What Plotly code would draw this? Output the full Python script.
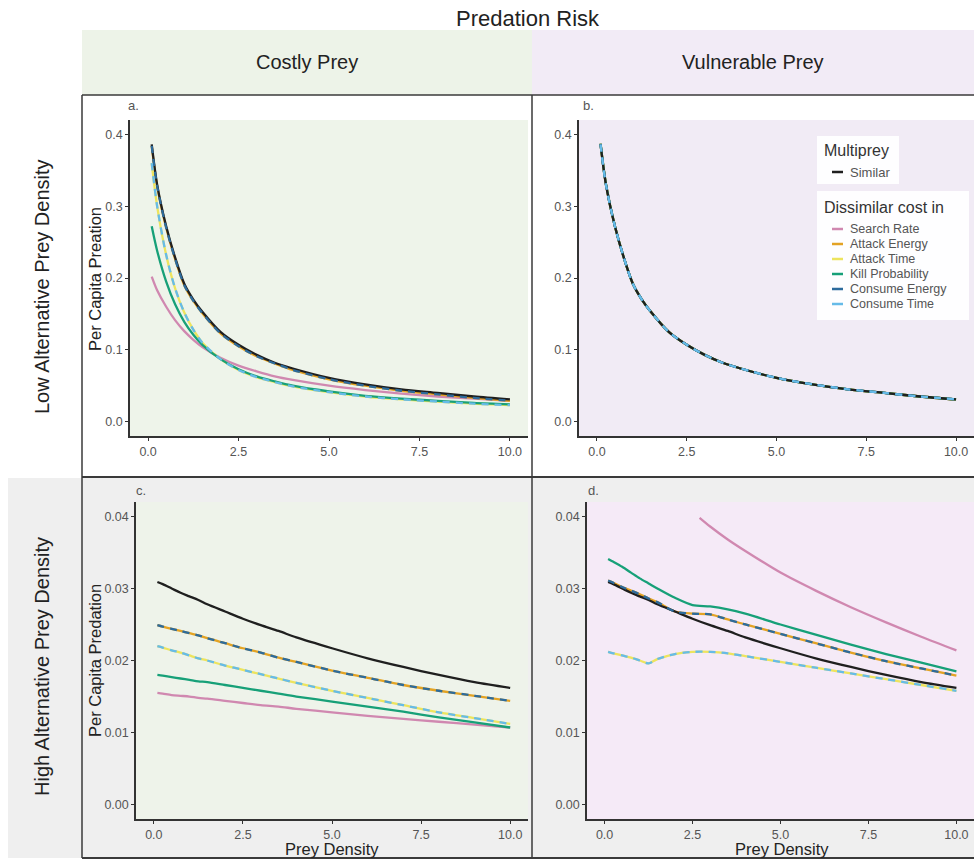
import plotly.graph_objects as go

W, H = 974, 861
FONT = "Liberation Sans, Arial, Helvetica, sans-serif"

# ---------------- data ----------------
X = [0.1, 0.25, 0.5, 0.75, 1.0, 1.25, 1.5, 2.0, 2.5, 3.0, 3.5, 4.0, 5.0, 6.0, 7.0, 8.0, 9.0, 10.0]

X_TICKS = [0, 2.5, 5, 7.5, 10]
X_TICK_TEXT = ["0.0", "2.5", "5.0", "7.5", "10.0"]
Y_TICKS_LOW = [0, 0.1, 0.2, 0.3, 0.4]
Y_TICK_TEXT_LOW = ["0.0", "0.1", "0.2", "0.3", "0.4"]
Y_TICKS_HIGH = [0, 0.01, 0.02, 0.03, 0.04]
Y_TICK_TEXT_HIGH = ["0.00", "0.01", "0.02", "0.03", "0.04"]

SERIES = ["Search Rate", "Attack Energy", "Attack Time", "Kill Probability", "Consume Energy", "Consume Time"]

# Similar multiprey (black)
similar_low = [0.386, 0.330, 0.272, 0.228, 0.192, 0.170, 0.153, 0.125, 0.107, 0.093, 0.082, 0.074,
               0.061, 0.052, 0.045, 0.040, 0.035, 0.031]
similar_high = [0.0309, 0.0306, 0.0300, 0.0294, 0.0289, 0.0284, 0.0278, 0.0268, 0.0258, 0.0249, 0.0241,
                0.0232, 0.0217, 0.0203, 0.0191, 0.0180, 0.0170, 0.0162]

# a. Costly prey, low alternative prey density
a_search = [0.202, 0.183, 0.160, 0.141, 0.126, 0.114, 0.104, 0.089, 0.078, 0.070, 0.063, 0.058,
            0.050, 0.044, 0.039, 0.035, 0.032, 0.029]
a_attack_energy = [0.384, 0.328, 0.270, 0.226, 0.190, 0.168, 0.151, 0.123, 0.105, 0.091, 0.081, 0.072,
                   0.059, 0.050, 0.043, 0.038, 0.033, 0.029]
a_attack_time = [0.360, 0.300, 0.232, 0.185, 0.152, 0.128, 0.110, 0.087, 0.072, 0.062, 0.055, 0.049,
                 0.041, 0.035, 0.031, 0.028, 0.025, 0.023]
a_kill = [0.272, 0.238, 0.195, 0.163, 0.139, 0.121, 0.107, 0.087, 0.073, 0.063, 0.056, 0.050,
          0.042, 0.036, 0.032, 0.029, 0.026, 0.024]
a_consume_energy = [0.384, 0.328, 0.270, 0.226, 0.190, 0.168, 0.151, 0.123, 0.105, 0.091, 0.081, 0.072,
                    0.059, 0.050, 0.043, 0.038, 0.033, 0.029]
a_consume_time = [0.360, 0.300, 0.232, 0.185, 0.152, 0.128, 0.110, 0.087, 0.072, 0.062, 0.055, 0.049,
                  0.041, 0.035, 0.031, 0.028, 0.025, 0.023]

# b. Vulnerable prey, low alternative prey density (all curves coincide with Similar)
b_search = [0.387, 0.331, 0.272, 0.228, 0.192, 0.170, 0.153, 0.125, 0.107, 0.093, 0.082, 0.074,
            0.061, 0.052, 0.045, 0.040, 0.035, 0.031]
b_attack_energy = [0.387, 0.331, 0.272, 0.228, 0.192, 0.170, 0.153, 0.125, 0.107, 0.093, 0.082, 0.074,
                   0.061, 0.052, 0.045, 0.040, 0.035, 0.031]
b_attack_time = [0.386, 0.330, 0.272, 0.228, 0.192, 0.170, 0.153, 0.125, 0.107, 0.093, 0.082, 0.074,
                 0.061, 0.052, 0.045, 0.040, 0.035, 0.031]
b_kill = [0.387, 0.331, 0.272, 0.228, 0.192, 0.170, 0.153, 0.125, 0.107, 0.093, 0.082, 0.074,
          0.061, 0.052, 0.045, 0.040, 0.035, 0.031]
b_consume_energy = [0.386, 0.330, 0.272, 0.228, 0.192, 0.170, 0.153, 0.125, 0.107, 0.093, 0.082, 0.074,
                    0.061, 0.052, 0.045, 0.040, 0.035, 0.031]
b_consume_time = [0.386, 0.330, 0.272, 0.228, 0.192, 0.170, 0.153, 0.125, 0.107, 0.093, 0.082, 0.074,
                  0.061, 0.052, 0.045, 0.040, 0.035, 0.031]

# c. Costly prey, high alternative prey density
c_search = [0.0155, 0.0154, 0.0152, 0.0151, 0.0150, 0.0148, 0.0147, 0.0144, 0.0141, 0.0138, 0.0136,
            0.0133, 0.0128, 0.0123, 0.0119, 0.0115, 0.0111, 0.0107]
c_attack_energy = [0.0249, 0.0247, 0.0244, 0.0241, 0.0238, 0.0235, 0.0231, 0.0224, 0.0217, 0.0211, 0.0204,
                   0.0198, 0.0186, 0.0176, 0.0166, 0.0158, 0.0151, 0.0144]
c_attack_time = [0.0220, 0.0218, 0.0214, 0.0211, 0.0207, 0.0203, 0.0200, 0.0193, 0.0187, 0.0181, 0.0175,
                 0.0169, 0.0158, 0.0148, 0.0138, 0.0128, 0.0120, 0.0112]
c_kill = [0.0180, 0.0179, 0.0177, 0.0175, 0.0173, 0.0171, 0.0170, 0.0166, 0.0162, 0.0158, 0.0154,
          0.0150, 0.0143, 0.0136, 0.0129, 0.0121, 0.0114, 0.0107]
c_consume_energy = [0.0249, 0.0247, 0.0244, 0.0241, 0.0238, 0.0235, 0.0231, 0.0224, 0.0217, 0.0211, 0.0204,
                    0.0198, 0.0186, 0.0176, 0.0166, 0.0158, 0.0151, 0.0144]
c_consume_time = [0.0220, 0.0218, 0.0214, 0.0211, 0.0207, 0.0203, 0.0200, 0.0193, 0.0187, 0.0181, 0.0175,
                  0.0169, 0.0158, 0.0148, 0.0138, 0.0128, 0.0120, 0.0112]

# d. Vulnerable prey, high alternative prey density
d_search_x = [2.7, 3.0, 3.5, 4.0, 5.0, 6.0, 7.0, 8.0, 9.0, 10.0]
d_search = [0.0398, 0.0386, 0.0368, 0.0352, 0.0322, 0.0297, 0.0274, 0.0253, 0.0233, 0.0214]
d_attack_energy = [0.0311, 0.0308, 0.0302, 0.0297, 0.0292, 0.0286, 0.0281, 0.0268, 0.0265, 0.0264, 0.0257,
                   0.0250, 0.0237, 0.0224, 0.0211, 0.0199, 0.0189, 0.0179]
d_attack_time = [0.0212, 0.0210, 0.0207, 0.0204, 0.0200, 0.0196, 0.0202, 0.0209, 0.0212, 0.0212, 0.0210,
                 0.0206, 0.0198, 0.0190, 0.0182, 0.0174, 0.0166, 0.0158]
d_kill = [0.0341, 0.0337, 0.0330, 0.0322, 0.0314, 0.0307, 0.0300, 0.0287, 0.0277, 0.0275, 0.0271,
          0.0265, 0.0250, 0.0236, 0.0222, 0.0209, 0.0197, 0.0185]
d_consume_energy = [0.0311, 0.0308, 0.0302, 0.0297, 0.0292, 0.0286, 0.0281, 0.0268, 0.0265, 0.0264, 0.0257,
                    0.0250, 0.0237, 0.0224, 0.0211, 0.0199, 0.0189, 0.0179]
d_consume_time = [0.0212, 0.0210, 0.0207, 0.0204, 0.0200, 0.0196, 0.0202, 0.0209, 0.0212, 0.0212, 0.0210,
                  0.0206, 0.0198, 0.0190, 0.0182, 0.0174, 0.0166, 0.0158]

# ---------------- styles ----------------
SIMILAR_COLOR = "#1f1f1f"
COLORS = ["#d088b0", "#e3a324", "#ede45e", "#17a078", "#2d6b9c", "#66bbe8"]
DASHES = ["solid", "solid", "solid", "solid", "7px,6px", "7px,6px"]
LW = 2.3


def px(v):
    return v / W


def py(v):
    return 1 - v / H


panels = [
    ("", (130, 528), (120, 436), similar_low,
     [a_search, a_attack_energy, a_attack_time, a_kill, a_consume_energy, a_consume_time], X),
    ("2", (579, 974), (120, 436), similar_low,
     [b_search, b_attack_energy, b_attack_time, b_kill, b_consume_energy, b_consume_time], X),
    ("3", (136, 528), (502, 819), similar_high,
     [c_search, c_attack_energy, c_attack_time, c_kill, c_consume_energy, c_consume_time], X),
    ("4", (587, 974), (502, 819), similar_high,
     [d_search, d_attack_energy, d_attack_time, d_kill, d_consume_energy, d_consume_time], d_search_x),
]

# drawing order: solid cost series, then Similar, then dashed cost series on top
ORDER = [0, 1, 2, 3, "sim", 4, 5]

fig = go.Figure()
layout_axes = {}
for i, (sfx, xd, yd, sim, ser, sx) in enumerate(panels):
    xa = "x" + sfx
    ya = "y" + sfx
    for j in ORDER:
        if j == "sim":
            fig.add_trace(go.Scatter(x=X, y=sim, xaxis=xa, yaxis=ya, mode="lines", name="Similar",
                                     line=dict(color=SIMILAR_COLOR, width=LW, shape="spline", smoothing=0.8),
                                     showlegend=False))
            continue
        xs = sx if j == 0 else X
        fig.add_trace(go.Scatter(x=xs, y=ser[j], xaxis=xa, yaxis=ya, mode="lines", name=SERIES[j],
                                 line=dict(color=COLORS[j], width=LW, dash=DASHES[j],
                                           shape="spline", smoothing=0.8),
                                 showlegend=False))
    top = i < 2
    common = dict(showline=True, linecolor="#333333", linewidth=1.5, ticks="outside", ticklen=3,
                  tickcolor="#333333", tickwidth=1.1, showgrid=False, zeroline=False,
                  tickfont=dict(size=12.5, color="#555555", family=FONT))
    layout_axes["xaxis" + sfx] = dict(domain=[px(xd[0]), px(xd[1])], anchor=ya, range=[-0.5, 10.5],
                                      tickvals=X_TICKS, ticktext=X_TICK_TEXT, **common)
    layout_axes["yaxis" + sfx] = dict(domain=[py(yd[1]), py(yd[0])], anchor=xa,
                                      range=[-0.02, 0.42] if top else [-0.002, 0.042],
                                      tickvals=Y_TICKS_LOW if top else Y_TICKS_HIGH,
                                      ticktext=Y_TICK_TEXT_LOW if top else Y_TICK_TEXT_HIGH, **common)

fig.update_layout(**layout_axes)

# ---------------- background / strips / borders ----------------
shapes = []


def rect(x0, y0, x1, y1, fill, line=None, layer="below"):
    d = dict(type="rect", xref="paper", yref="paper", x0=px(x0), x1=px(x1), y0=py(y1), y1=py(y0),
             fillcolor=fill, layer=layer, line=dict(width=0))
    if line:
        d["line"] = line
    return d


shapes.append(rect(82, 30, 532, 95, "#edf3e8"))
shapes.append(rect(532, 30, 974, 95, "#f2ebf6"))
shapes.append(rect(82, 477, 974, 858, "#efefef"))
shapes.append(rect(8, 478, 82, 858, "#efefef"))

panel_bg = ["#eef4ea", "#f1ebf5", "#eef3ea", "#f5eaf7"]
for (sfx, xd, yd, *_), col in zip(panels, panel_bg):
    shapes.append(rect(xd[0], yd[0], xd[1], yd[1], col))


def hline(x0, x1, y, w=2):
    return dict(type="line", xref="paper", yref="paper", x0=px(x0), x1=px(x1), y0=py(y), y1=py(y),
                line=dict(color="#3a3a3a", width=w), layer="above")


def vline(x, y0, y1, w=2):
    return dict(type="line", xref="paper", yref="paper", x0=px(x), x1=px(x), y0=py(y0), y1=py(y1),
                line=dict(color="#3a3a3a", width=w), layer="above")


shapes += [hline(82, 974, 95, 1.5), hline(82, 974, 477), hline(82, 974, 858),
           vline(82, 95, 858, 1.5), vline(532, 95, 858, 1.5)]

# legend (manual, inside panel b)
shapes.append(rect(817, 136, 899, 184, "rgba(255,255,255,0.92)", layer="above"))
shapes.append(rect(817, 191, 969, 320, "rgba(255,255,255,0.92)", layer="above"))

annotations = []


def text(x, y, s, size, color="#222222", xanchor="center", angle=0):
    annotations.append(dict(x=px(x), y=py(y), xref="paper", yref="paper", text=s, showarrow=False,
                            xanchor=xanchor, yanchor="middle", textangle=angle,
                            font=dict(family=FONT, size=size, color=color)))


text(528, 18, "Predation Risk", 22)
text(307, 62, "Costly Prey", 20)
text(753, 62, "Vulnerable Prey", 20)
text(42, 287, "Low Alternative Prey Density", 20, angle=-90)
text(42, 667, "High Alternative Prey Density", 20, angle=-90)
text(95, 279, "Per Capita Preation", 16.5, angle=-90)
text(95, 661, "Per Capita Predation", 16.5, angle=-90)
text(332, 849, "Prey Density", 16.5)
text(782, 849, "Prey Density", 16.5)
text(126, 105, "a.", 13, "#555555", "left")
text(581, 105, "b.", 13, "#555555", "left")
text(134, 490, "c.", 13, "#555555", "left")
text(586, 490, "d.", 13, "#555555", "left")

# legend content
text(822, 150, "Multiprey", 16, "#333333", "left")
shapes.append(dict(type="line", xref="paper", yref="paper", x0=px(832), x1=px(843), y0=py(172), y1=py(172),
                   line=dict(color=SIMILAR_COLOR, width=2.5), layer="above"))
text(848, 172, "Similar", 13, "#555555", "left")
text(822, 207, "Dissimilar cost in", 16, "#333333", "left")
for k, name in enumerate(SERIES):
    yy = 229 + k * 15
    shapes.append(dict(type="line", xref="paper", yref="paper", x0=px(832), x1=px(843), y0=py(yy), y1=py(yy),
                       line=dict(color=COLORS[k], width=2.5), layer="above"))
    text(848, yy, name, 12.5, "#555555", "left")

fig.update_layout(
    width=W, height=H, margin=dict(l=0, r=0, t=0, b=0),
    paper_bgcolor="white", plot_bgcolor="rgba(0,0,0,0)",
    shapes=shapes, annotations=annotations, showlegend=False,
    font=dict(family=FONT),
)

fig.write_html("out.html")
